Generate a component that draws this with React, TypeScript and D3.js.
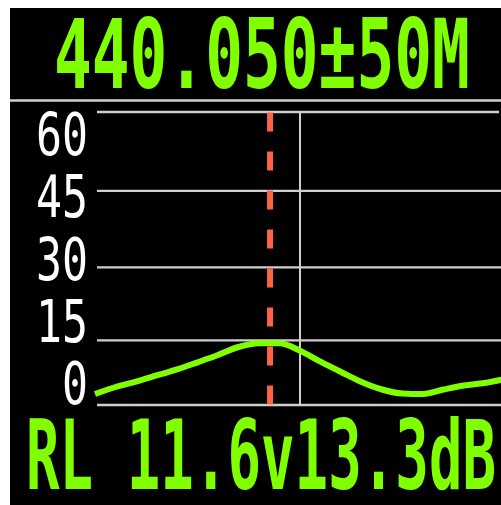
import React from "react";
import * as d3 from "d3";

// Frequency sweep (MHz) and return loss (dB)
const freqs = [390, 395, 400, 405, 410, 415, 420, 425, 430, 435, 440, 445, 450, 455, 460, 465, 470, 475, 480, 485, 490];
const rlValues = [2.37, 3.88, 5.06, 6.36, 7.67, 9.2, 10.78, 12.5, 13.3, 13.3, 11.7, 9.33, 7.11, 4.96, 3.34, 2.48, 2.37, 3.34, 4.2, 4.74, 5.6];
const gridValues = [0, 15, 30, 45, 60];
const tickLabels = ["0", "15", "30", "45", "60"];
const centerFreq = 440;
const markerFreq = 432.7;
const headerText = "440.050±50M";
const footerText = "RL 11.6v13.3dB";

const GREEN = "#80ff00";
const GRID = "#cfcfcf";
const FONT = "'DejaVu Sans Mono', monospace";

export default function App() {
  const x = d3.scaleLinear().domain([390, 490]).range([95, 505]);
  const yCurve = d3.scaleLinear().domain([0, 60]).range([405, 126.6]);
  const yGrid = d3.scalePow().exponent(1.09).domain([0, 60]).range([405, 112]);
  const yLabel = d3.scaleLinear().domain([0, 60]).range([404, 155]);

  const line = d3
    .line<number>()
    .x((_, i) => x(freqs[i]))
    .y((d) => yCurve(d))
    .curve(d3.curveMonotoneX);

  return (
    <svg
      width={501}
      height={505}
      style={{ position: "absolute", left: 0, top: 0, display: "block" }}
    >
      <rect x={10} y={8} width={491} height={497} fill="#000" />
      <text
        transform="translate(54,88) scale(0.654,1)"
        fill={GREEN}
        fontFamily={FONT}
        fontWeight="bold"
        fontSize={96}
      >
        {headerText}
      </text>
      <line x1={10} x2={501} y1={100.5} y2={100.5} stroke={GRID} strokeWidth={2.5} />
      {gridValues.map((v) => (
        <line key={v} x1={97} x2={v === 60 ? 499 : 501} y1={yGrid(v)} y2={yGrid(v)} stroke={GRID} strokeWidth={2.3} />
      ))}
      <line
        x1={x(centerFreq)}
        x2={x(centerFreq)}
        y1={yGrid(60)}
        y2={yGrid(0)}
        stroke={GRID}
        strokeWidth={2}
      />
      {gridValues.map((v, i) => (
        <text
          key={v}
          transform={`translate(88,${yLabel(v)}) scale(0.745,1)`}
          fill="#fff"
          textAnchor="end"
          fontFamily={FONT}
          fontSize={58}
        >
          {tickLabels[i]}
        </text>
      ))}
      <path d={line(rlValues) || ""} fill="none" stroke={GREEN} strokeWidth={6} />
      <line
        x1={x(markerFreq)}
        x2={x(markerFreq)}
        y1={112.5}
        y2={405}
        stroke="#ff6347"
        strokeWidth={6}
        strokeDasharray="19 20"
      />
      <text
        transform="translate(26,489) scale(0.575,1)"
        fill={GREEN}
        fontFamily={FONT}
        fontWeight="bold"
        fontSize={97}
      >
        {footerText}
      </text>
    </svg>
  );
}
